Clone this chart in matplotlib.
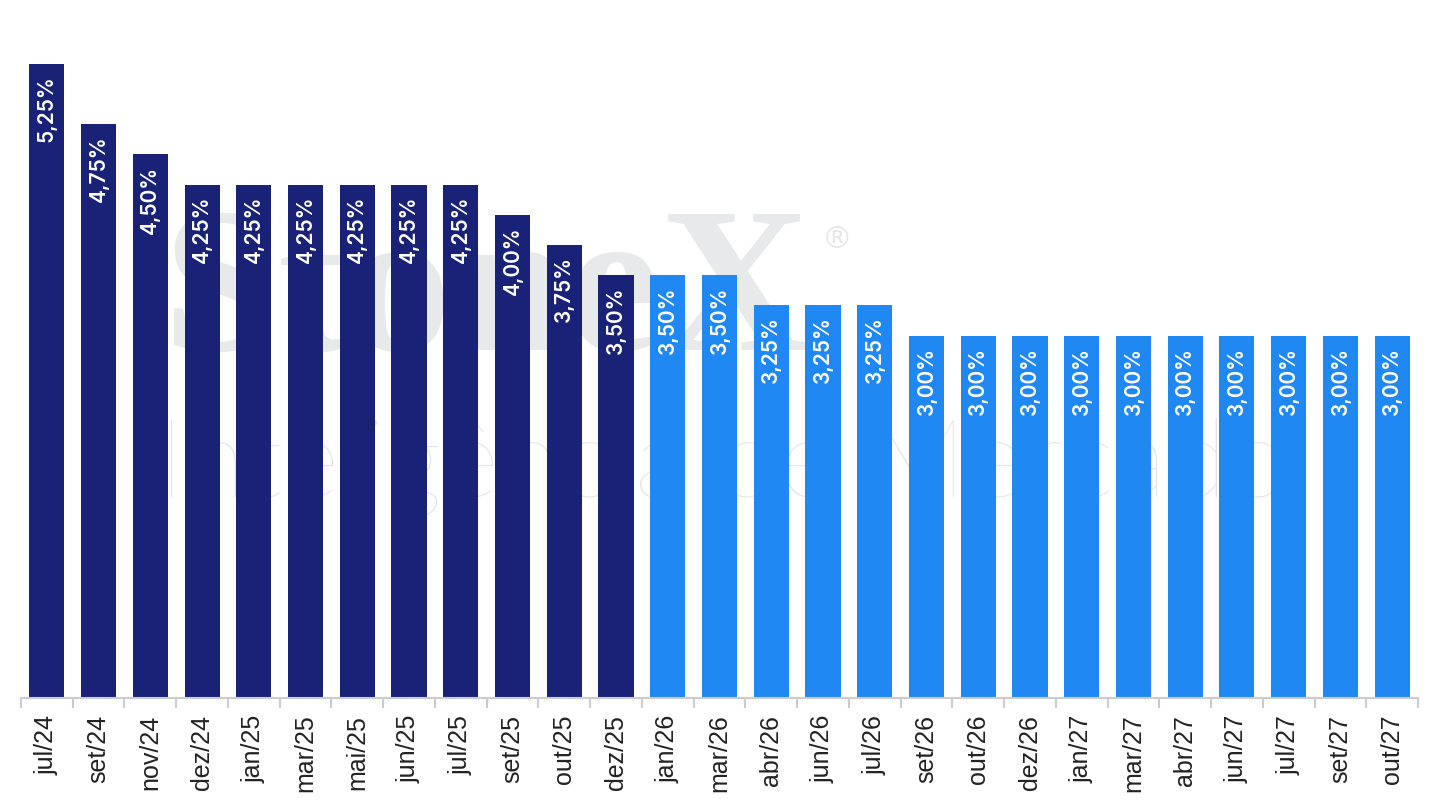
import matplotlib
matplotlib.use("Agg")
import matplotlib.pyplot as plt

categories = ["jul/24", "set/24", "nov/24", "dez/24", "jan/25", "mar/25", "mai/25",
              "jun/25", "jul/25", "set/25", "out/25", "dez/25", "jan/26", "mar/26",
              "abr/26", "jun/26", "jul/26", "set/26", "out/26", "dez/26", "jan/27",
              "mar/27", "abr/27", "jun/27", "jul/27", "set/27", "out/27"]
values = [5.25, 4.75, 4.50, 4.25, 4.25, 4.25, 4.25, 4.25, 4.25, 4.00, 3.75, 3.50,
          3.50, 3.50, 3.25, 3.25, 3.25, 3.00, 3.00, 3.00, 3.00, 3.00, 3.00, 3.00,
          3.00, 3.00, 3.00]
n_realized = 12  # first 12 bars are realized (dark), rest projections

dark = "#1a2278"
light = "#1f88f2"
colors = [dark if i < n_realized else light for i in range(len(values))]

W, H = 1443, 808
fig = plt.figure(figsize=(W / 100, H / 100), dpi=100)
ax_left, ax_right = 21 / W, 1418 / W
ax_bottom = (H - 698) / H
ax_top = 1.0
ax = fig.add_axes([ax_left, ax_bottom, ax_right - ax_left, ax_top - ax_bottom])

# watermark (behind bars)
fig.text(163 / W, 1 - 350 / H, "StoneX", fontsize=150, family="Liberation Serif",
         fontweight="bold", color="#e8e9ea", ha="left", va="baseline", zorder=0)
fig.text(822 / W, 1 - 248 / H, "®", fontsize=22, family="DejaVu Sans",
         color="#e6e7e8", ha="left", va="baseline", zorder=0)
fig.text(158 / W, 1 - 497 / H, "Inteligência de Mercado", fontsize=80,
         family="Lato", fontweight="light", color="#e3e4e5", ha="left",
         va="baseline", zorder=0)
ax.set_zorder(1)
ax.patch.set_alpha(0)

x = list(range(len(values)))
px_per_unit = 120.8
ax.set_ylim(0, 698 / px_per_unit)
ax.set_xlim(-0.5, len(values) - 0.5)
bars = ax.bar(x, values, width=0.68, color=colors, zorder=2)

for xi, v in zip(x, values):
    ax.annotate(f"{v:.2f}%".replace(".", ","), (xi, v), xytext=(0, -8),
                textcoords="offset points", rotation=90, ha="center", va="top",
                color="white", fontsize=15, family="Inter",
                fontweight="semibold", zorder=3)

for s in ["top", "right", "left"]:
    ax.spines[s].set_visible(False)
ax.spines["bottom"].set_color("#cccccc")
ax.spines["bottom"].set_linewidth(1.5)
ax.set_yticks([])

ax.set_xticks(x)
ax.set_xticklabels(categories, rotation=90, fontsize=18, family="Liberation Sans",
                   color="#222222")
ax.tick_params(axis="x", which="major", length=0, pad=12)
ax.set_xticks([i - 0.5 for i in range(len(values) + 1)], minor=True)
ax.tick_params(axis="x", which="minor", length=7, width=1.5, color="#cccccc")

fig.savefig("out.png", dpi=100)
